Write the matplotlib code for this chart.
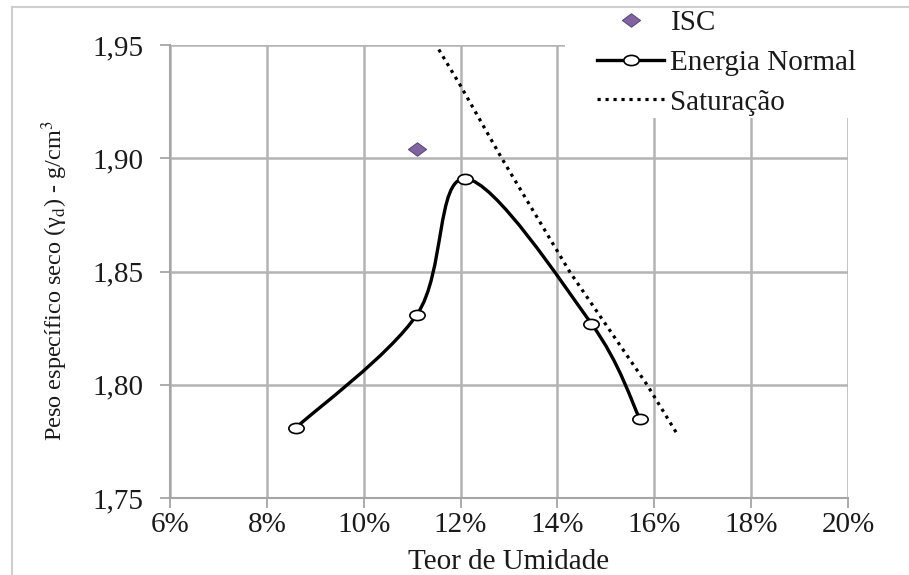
import numpy as np
import matplotlib
matplotlib.use('Agg')
import matplotlib.pyplot as plt
from matplotlib.path import Path
from matplotlib.patches import PathPatch, Rectangle
from matplotlib.lines import Line2D
from matplotlib.ticker import FixedLocator, FuncFormatter

plt.rcParams['font.family'] = ['Liberation Serif', 'DejaVu Serif']
plt.rcParams['mathtext.fontset'] = 'stix'

# teor de umidade (%) e peso especifico seco (g/cm3)
isc_w = [11.1]
isc_g = [1.904]

normal_w = [8.6, 11.1, 12.1, 14.7, 15.7]
normal_g = [1.781, 1.831, 1.891, 1.827, 1.785]

sat_w = [11.55, 12.0, 12.85, 14.25, 15.85, 16.45]
sat_g = [1.948, 1.932, 1.900, 1.850, 1.800, 1.779]

x_ticks = [6, 8, 10, 12, 14, 16, 18, 20]
y_ticks = [1.75, 1.80, 1.85, 1.90, 1.95]

grid_c = '#b4b4b4'
axis_c = '#a6a6a6'
txt_c = '#1a1a1a'

fig = plt.figure(figsize=(9.09, 5.75), dpi=100)
ax = fig.add_axes([170/909, 1-498/575, (848-170)/909, (498-45)/575])


def smooth_path(xs, ys):
    # curva suavizada tipo Excel (Catmull-Rom em Bezier cubica)
    p = np.column_stack([xs, ys])
    ext = np.vstack([p[0], p, p[-1]])
    verts = [p[0]]
    codes = [Path.MOVETO]
    for i in range(len(p) - 1):
        p0, p1, p2, p3 = ext[i], ext[i+1], ext[i+2], ext[i+3]
        c1 = p1 + (p2 - p0) / 6.0
        c2 = p2 - (p3 - p1) / 6.0
        verts += [c1, c2, p2]
        codes += [Path.CURVE4] * 3
    return Path(verts, codes)


circ = Path.unit_circle()
oval = Path(circ.vertices * [1.5, 1.0], circ.codes)
diamond = Path([(-1.35, 0), (0, 1), (1.35, 0), (0, -1), (-1.35, 0)],
               [Path.MOVETO, Path.LINETO, Path.LINETO, Path.LINETO, Path.CLOSEPOLY])

ax.add_patch(PathPatch(smooth_path(normal_w, normal_g), facecolor='none',
                       edgecolor='black', lw=2.4, zorder=3))
ax.plot(normal_w, normal_g, ls='none', marker=oval, ms=11, mfc='white',
        mec='black', mew=1.2, zorder=4)
ax.plot(sat_w, sat_g, color='black', ls=(0, (1, 1.5)), lw=2.3, zorder=3)
ax.plot(isc_w, isc_g, ls='none', marker=diamond, ms=13, mfc='#8064A2',
        mec='#5f4a80', mew=0.8, zorder=4)

ax.set_xlim(6, 20)
ax.set_ylim(1.75, 1.95)
ax.xaxis.set_major_locator(FixedLocator(x_ticks))
ax.yaxis.set_major_locator(FixedLocator(y_ticks))
ax.xaxis.set_major_formatter(FuncFormatter(lambda v, p: '%d%%' % round(v)))
ax.yaxis.set_major_formatter(FuncFormatter(lambda v, p: ('%.2f' % v).replace('.', ',')))

ax.set_axisbelow(True)
ax.grid(True, color=grid_c, lw=1.8)
for s in ['top', 'right']:
    ax.spines[s].set_visible(False)
for s in ['left', 'bottom']:
    ax.spines[s].set_color(axis_c)
    ax.spines[s].set_linewidth(1.5)
ax.tick_params(axis='both', direction='out', length=7, width=1.3, color=axis_c,
               labelsize=21, labelcolor=txt_c)
ax.tick_params(axis='y', pad=12)
ax.tick_params(axis='x', pad=3)

ax.set_xlabel('Teor de Umidade', fontsize=21, color=txt_c, labelpad=8)
ax.set_ylabel(r'Peso específico seco (γ$_\mathrm{d}$) - g/cm$^3$', fontsize=17.5,
              color=txt_c, labelpad=16)
ax.yaxis.label.set_y(0.48)

# area branca da legenda sobre a grade
ax.add_patch(Rectangle((565/909, 1-118/575), 1, 1, transform=fig.transFigure,
                       facecolor='white', edgecolor='none', zorder=1.5, clip_on=False))

handles = [
    Line2D([], [], ls='none', marker=diamond, ms=13, mfc='#8064A2', mec='#5f4a80', mew=0.8),
    Line2D([], [], color='black', lw=2.4, marker=oval, ms=11, mfc='white', mec='black', mew=1.2),
    Line2D([], [], color='black', ls=(0, (1, 1.5)), lw=2.3),
]
leg = fig.legend(handles, ['ISC', 'Energia Normal', 'Saturação'],
                 loc='upper left', bbox_to_anchor=(597/909, 1-10/575),
                 frameon=False, fontsize=21, handlelength=2.3, handletextpad=0.22,
                 labelspacing=0.45, borderpad=0.0, borderaxespad=0.0)
for t in leg.get_texts():
    t.set_color(txt_c)

# moldura do grafico
fig.add_artist(Line2D([12/909, 12/909], [0, 1-7/575], color='#cfcfcf', lw=1.5))
fig.add_artist(Line2D([12/909, 1], [1-7/575, 1-7/575], color='#cfcfcf', lw=1.5))

fig.savefig('out.png', dpi=100, facecolor='white')
